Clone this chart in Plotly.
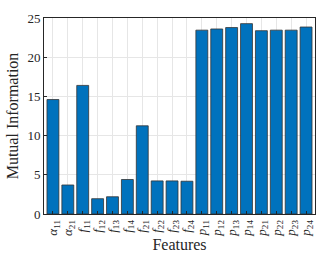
import plotly.graph_objects as go

features = ["α11", "α21", "f11", "f12", "f13", "f14", "f21", "f22", "f23", "f24",
            "p11", "p12", "p13", "p14", "p21", "p22", "p23", "p24"]
tick_labels = ["<i>α</i><sub>11</sub>", "<i>α</i><sub>21</sub>",
               "<i>f</i><sub>11</sub>", "<i>f</i><sub>12</sub>", "<i>f</i><sub>13</sub>", "<i>f</i><sub>14</sub>",
               "<i>f</i><sub>21</sub>", "<i>f</i><sub>22</sub>", "<i>f</i><sub>23</sub>", "<i>f</i><sub>24</sub>",
               "<i>p</i><sub>11</sub>", "<i>p</i><sub>12</sub>", "<i>p</i><sub>13</sub>", "<i>p</i><sub>14</sub>",
               "<i>p</i><sub>21</sub>", "<i>p</i><sub>22</sub>", "<i>p</i><sub>23</sub>", "<i>p</i><sub>24</sub>"]
mutual_info = [14.6, 3.7, 16.4, 1.95, 2.2, 4.4, 11.25, 4.22, 4.22, 4.18,
               23.45, 23.6, 23.78, 24.28, 23.38, 23.45, 23.45, 23.85]

FONT = "Liberation Serif"

fig = go.Figure(go.Bar(
    x=list(range(len(features))), y=mutual_info,
    marker=dict(color="#0072BD", line=dict(color="#333333", width=0.8)),
    width=0.8,
))

fig.update_layout(
    width=327, height=261,
    margin=dict(l=44, r=11, t=16, b=43),
    paper_bgcolor="white", plot_bgcolor="white",
    font=dict(family=FONT, size=13, color="#262626"),
    showlegend=False,
    bargap=0.2,
)
fig.update_xaxes(
    tickmode="array", tickvals=list(range(len(features))), ticktext=tick_labels,
    tickangle=-90, range=[-0.6, len(features) - 0.4],
    showgrid=True, gridcolor="#e6e6e6", gridwidth=0.7,
    showline=True, linecolor="#262626", linewidth=0.7, mirror=True,
    ticks="inside", ticklen=3, tickcolor="#262626",
    tickfont=dict(size=13),
    title=dict(text="Features", font=dict(size=16), standoff=2),
)
fig.update_yaxes(
    range=[0, 25], tickvals=[0, 5, 10, 15, 20, 25],
    showgrid=True, gridcolor="#e6e6e6", gridwidth=0.7,
    showline=True, linecolor="#262626", linewidth=0.7, mirror=True,
    ticks="inside", ticklen=3, tickcolor="#262626",
    tickfont=dict(size=13), zeroline=False,
    title=dict(text="Mutual Information", font=dict(size=16), standoff=4),
)

fig.write_html("out.html", config={"displayModeBar": False},
               post_script="document.body.style.margin='0';")
